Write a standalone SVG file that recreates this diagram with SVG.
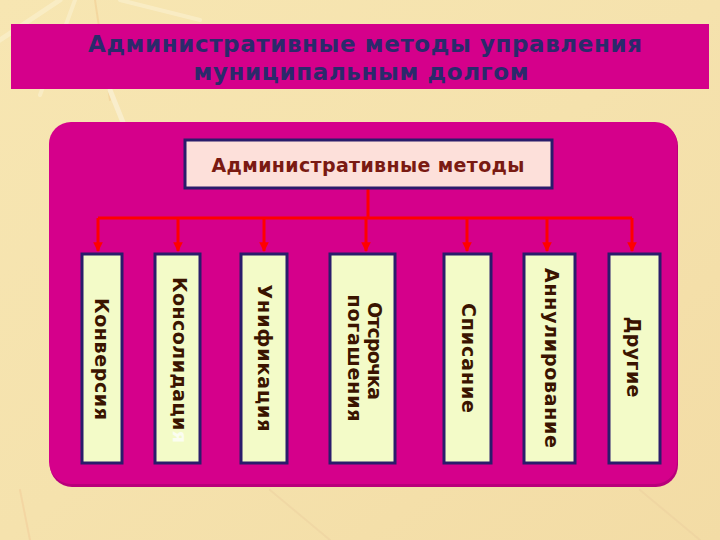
<svg xmlns="http://www.w3.org/2000/svg" width="720" height="540" viewBox="0 0 720 540">
<defs>
<linearGradient id="bg" x1="0" y1="0" x2="1" y2="1">
<stop offset="0" stop-color="#f7e6b2"/>
<stop offset="0.5" stop-color="#f5e2ad"/>
<stop offset="1" stop-color="#f3dca5"/>
</linearGradient>
<marker id="arr" viewBox="0 0 10 10" refX="9" refY="5" markerWidth="3.2" markerHeight="3.2" orient="auto" markerUnits="strokeWidth">
<path d="M0,0 L10,5 L0,10 Z" fill="#ff0000"/>
</marker>
<style>
.title{font-family:"DejaVu Sans","Verdana",sans-serif;font-weight:bold;font-size:23px;fill:#2b2a6b;}
.head{font-family:"DejaVu Sans","Verdana",sans-serif;font-weight:bold;font-size:19px;fill:#7a1a12;}
.lbl{font-family:"DejaVu Sans","Verdana",sans-serif;font-weight:bold;font-size:19px;fill:#3a1400;}
.box{fill:#f3fbc8;stroke:#2a1c6b;stroke-width:3;}
.conn{stroke:#ff0000;stroke-width:3;fill:none;}
</style>
</defs>
<rect x="0" y="0" width="720" height="540" fill="url(#bg)"/>
<g opacity="0.35" fill="none" stroke-linecap="round">
<path d="M60,0 L0,40" stroke="#fffbe8" stroke-width="5"/>
<path d="M75,0 L40,95" stroke="#fffbe8" stroke-width="4"/>
<path d="M95,0 L110,100" stroke="#f0c080" stroke-width="2"/>
<path d="M120,0 L200,20" stroke="#fffbe8" stroke-width="4"/>
<path d="M110,90 L130,140" stroke="#ffffff" stroke-width="5"/>
<path d="M640,490 L700,540" stroke="#e8c89a" stroke-width="2"/>
<path d="M270,490 L330,540" stroke="#e8c89a" stroke-width="2"/>
<path d="M20,490 L30,540" stroke="#f0c090" stroke-width="2"/>
</g>
<g id="banner">
<rect x="11" y="24" width="698" height="65" fill="#d5008b"/>
<text class="title" x="365" y="52" text-anchor="middle" textLength="554">Административные методы управления</text>
<text class="title" x="361" y="80" text-anchor="middle" textLength="335">муниципальным долгом</text>
</g>
<g id="panel">
<rect x="50" y="124" width="628" height="363" rx="22" fill="#b8007a"/>
<rect x="49" y="122" width="628" height="362" rx="22" fill="#d5008b"/>
</g>
<g id="connectors">
<path class="conn" d="M368,188 V218"/>
<path class="conn" d="M98,218 H632"/>
<path class="conn" d="M98,218 V251" marker-end="url(#arr)"/>
<path class="conn" d="M178,218 V251" marker-end="url(#arr)"/>
<path class="conn" d="M264,218 V251" marker-end="url(#arr)"/>
<path class="conn" d="M366,218 V251" marker-end="url(#arr)"/>
<path class="conn" d="M467,218 V251" marker-end="url(#arr)"/>
<path class="conn" d="M547,218 V251" marker-end="url(#arr)"/>
<path class="conn" d="M632,218 V251" marker-end="url(#arr)"/>
</g>
<g id="root">
<rect x="185" y="140" width="367" height="48" fill="#fde0da" stroke="#2a1c6b" stroke-width="3"/>
<text class="head" x="368" y="172" text-anchor="middle" textLength="313">Административные методы</text>
</g>
<g id="n1">
<rect class="box" x="82" y="254" width="40" height="209"/>
<text class="lbl" transform="translate(95,359) rotate(90)" text-anchor="middle" textLength="122">Конверсия</text>
</g>
<g id="n2">
<rect class="box" x="155" y="254" width="45" height="209"/>
<text class="lbl" transform="translate(173,360) rotate(90)" text-anchor="middle" textLength="166">Консолидаци<tspan fill="#fbfdf0">я</tspan></text>
</g>
<g id="n3">
<rect class="box" x="241" y="254" width="46" height="209"/>
<text class="lbl" transform="translate(258,358) rotate(90)" text-anchor="middle" textLength="147">Унификация</text>
</g>
<g id="n4">
<rect class="box" x="330" y="254" width="65" height="209"/>
<text class="lbl" transform="translate(368,351) rotate(90)" text-anchor="middle" textLength="98">Отсрочка</text>
<text class="lbl" transform="translate(348,358) rotate(90)" text-anchor="middle" textLength="127">погашения</text>
</g>
<g id="n5">
<rect class="box" x="444" y="254" width="47" height="209"/>
<text class="lbl" transform="translate(462,358) rotate(90)" text-anchor="middle" textLength="110">Списание</text>
</g>
<g id="n6">
<rect class="box" x="524" y="254" width="51" height="209"/>
<text class="lbl" transform="translate(545,358) rotate(90)" text-anchor="middle" textLength="180">Аннулирование</text>
</g>
<g id="n7">
<rect class="box" x="609" y="254" width="51" height="209"/>
<text class="lbl" transform="translate(627,357) rotate(90)" text-anchor="middle" textLength="81">Другие</text>
</g>
</svg>
